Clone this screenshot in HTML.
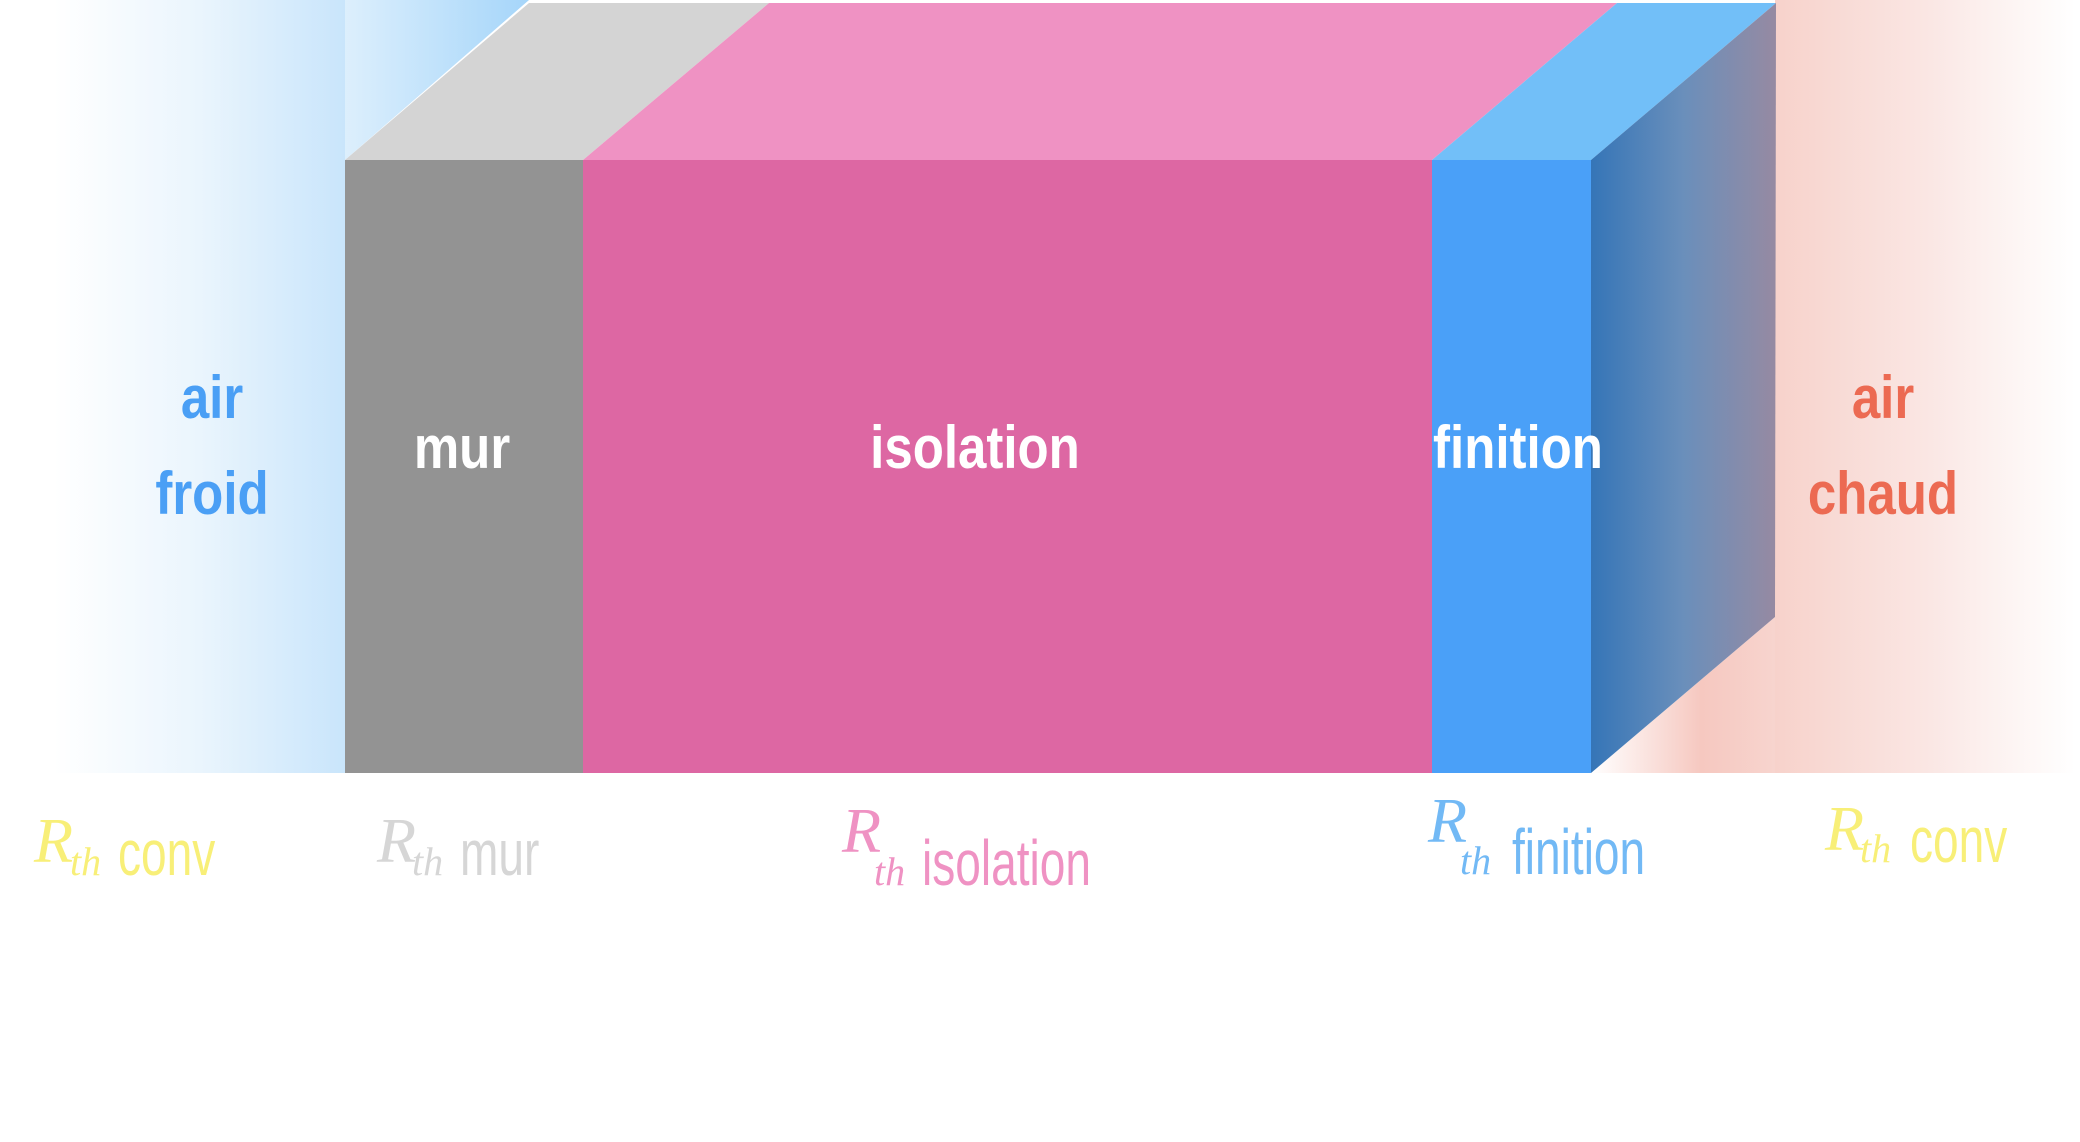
<!DOCTYPE html>
<html><head><meta charset="utf-8"><style>
html,body{margin:0;padding:0;background:#fff;}
svg{display:block;}
.lbl{font-family:"Liberation Sans",sans-serif;font-weight:bold;fill:#fff;}
.bl{font-family:"Liberation Sans",sans-serif;}
.R{font-family:"Liberation Serif",serif;font-style:italic;}
</style></head><body>
<svg width="2080" height="1142" viewBox="0 0 2080 1142" xmlns="http://www.w3.org/2000/svg">
<defs>
<linearGradient id="cold" x1="0" x2="1" y1="0" y2="0">
<stop offset="0" stop-color="#fff"/><stop offset="0.5" stop-color="#eaf5fd"/><stop offset="1" stop-color="#c9e5fb"/>
</linearGradient>
<linearGradient id="coldtop" x1="0" x2="1">
<stop offset="0" stop-color="#d4ebfc"/><stop offset="1" stop-color="#8fcbf8"/>
</linearGradient>
<linearGradient id="hot" x1="0" x2="1">
<stop offset="0" stop-color="#f7d2cb"/><stop offset="0.5" stop-color="#fae6e3"/><stop offset="1" stop-color="#fff"/>
</linearGradient>
<linearGradient id="hotlow" x1="0" x2="1">
<stop offset="0" stop-color="#fff"/><stop offset="0.6" stop-color="#f6c8c0"/><stop offset="1" stop-color="#f7d4ce"/>
</linearGradient>
<linearGradient id="side" x1="0" x2="1">
<stop offset="0" stop-color="#3575b7"/><stop offset="0.5" stop-color="#6a8fbb"/><stop offset="1" stop-color="#968aa2"/>
</linearGradient>
</defs>
<rect x="54" y="0" width="291" height="773" fill="url(#cold)"/>
<polygon points="345,0 529,0 345,160" fill="url(#coldtop)" opacity="0.8"/>
<rect x="1775" y="0" width="300" height="773" fill="url(#hot)"/>
<polygon points="1591,773 1775,617 1775,773" fill="url(#hotlow)"/>
<polygon points="345,160 529,3 769,3 583,160" fill="#d4d4d4"/>
<polygon points="583,160 769,3 1617,3 1432,160" fill="#ef92c3"/>
<polygon points="1432,160 1617,3 1776,3 1591,160" fill="#72bff8"/>
<polygon points="1591,160 1776,3 1775,617 1591,773" fill="url(#side)"/>
<rect x="345" y="160" width="238" height="613" fill="#939393"/>
<rect x="583" y="160" width="849" height="613" fill="#dd67a3"/>
<rect x="1432" y="160" width="159" height="613" fill="#4aa0f8"/>
<g class="lbl" font-size="60" text-anchor="middle">
<text transform="translate(212,418) scale(0.85,1)" style="fill:#4a9ff5">air</text>
<text transform="translate(212,514) scale(0.85,1)" style="fill:#4a9ff5">froid</text>
<text transform="translate(462,468) scale(0.85,1)">mur</text>
<text transform="translate(975,468) scale(0.85,1)">isolation</text>
<text transform="translate(1518,468) scale(0.85,1)">finition</text>
<text transform="translate(1883,418) scale(0.85,1)" style="fill:#ec6a52">air</text>
<text transform="translate(1883,514) scale(0.85,1)" style="fill:#ec6a52">chaud</text>
</g>
<g font-size="64">
<text x="34" y="862" class="R" fill="#f8ef78">R</text>
<text x="70" y="875" class="R" font-size="40" fill="#f8ef78">th</text>
<text class="bl" fill="#f8ef78" transform="translate(118,875) scale(0.72,1)">conv</text>

<text x="377" y="862" class="R" fill="#d6d6d6">R</text>
<text x="412" y="875" class="R" font-size="40" fill="#d6d6d6">th</text>
<text class="bl" fill="#d6d6d6" transform="translate(460,875) scale(0.72,1)">mur</text>

<text x="842" y="852" class="R" fill="#ef92c3">R</text>
<text x="874" y="885" class="R" font-size="40" fill="#ef92c3">th</text>
<text class="bl" fill="#ef92c3" transform="translate(922,885) scale(0.72,1)">isolation</text>

<text x="1428" y="842" class="R" fill="#72b9f5">R</text>
<text x="1460" y="874" class="R" font-size="40" fill="#72b9f5">th</text>
<text class="bl" fill="#72b9f5" transform="translate(1512,874) scale(0.72,1)">finition</text>

<text x="1825" y="850" class="R" fill="#f8ef78">R</text>
<text x="1860" y="862" class="R" font-size="40" fill="#f8ef78">th</text>
<text class="bl" fill="#f8ef78" transform="translate(1910,862) scale(0.72,1)">conv</text>
</g>
</svg>
</body></html>
